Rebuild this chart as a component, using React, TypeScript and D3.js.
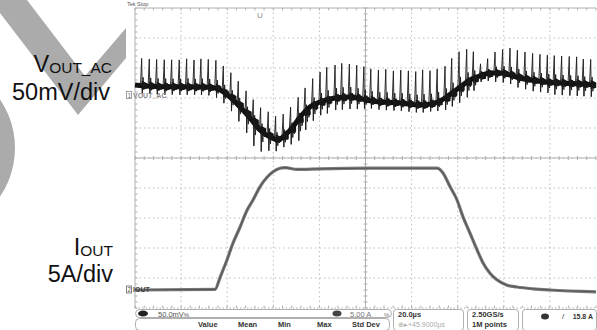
import React from 'react';
import * as d3 from 'd3';

const W = 597, H = 330;
const X0 = 135, X1 = 596, Y0 = 8, Y1 = 308;

// Time axis: 20 µs/div, 10 divisions
const TIME_DIVS = [0, 20, 40, 60, 80, 100, 120, 140, 160, 180, 200];

// VOUT_AC envelope (µs, mV), 50 mV/div
const ENV_T = [0, 10.8, 28.2, 34.7, 41.2, 45.6, 49.9, 54.2, 58.6, 62.0, 65.1, 68.5, 71.6, 75.9, 80.3, 86.8, 93.3, 100.2, 106.3, 115.0, 123.6, 130.2, 134.5, 137.5, 141.0, 145.3, 149.7, 154.0, 158.4, 162.7, 167.0, 171.4, 177.9, 184.4, 193.1, 200];
const ENV_MV = [16.7, 13.8, 13.3, 11.7, -3.3, -20, -38.3, -58.3, -70, -75, -66.7, -53.3, -36.7, -20, -11.7, -5, -3.3, -8.3, -11.7, -13.3, -16.7, -13.3, -5, 3.3, 13.3, 25, 31.7, 36.7, 36.7, 33.3, 28.3, 25, 21.7, 20, 18.3, 16.7];

// Switching spikes (µs) with their upward / downward excursion (mV)
const SPIKE_T = [2.9, 6.2, 9.4, 12.7, 15.9, 19.2, 22.4, 25.6, 28.6, 31.8, 35.1, 38.3, 41.6, 44.8, 48.2, 51.3, 54.5, 57.8, 61.0, 64.3, 67.5, 70.8, 73.8, 77.1, 80.3, 83.2, 86.8, 89.7, 93.0, 96.2, 99.3, 102.3, 105.6, 108.8, 112.1, 115.3, 118.6, 121.8, 124.8, 128.0, 131.1, 134.5, 137.4, 140.6, 143.9, 146.8, 149.9, 153.0, 156.2, 159.5, 162.7, 165.9, 169.2, 172.5, 175.7, 178.9, 181.9, 185.1, 188.4, 191.6, 194.5, 197.7];
const SPIKE_UP = [45, 45, 45, 45, 45, 45, 47, 45, 47, 47, 47, 45, 42, 40, 38, 37, 38, 40, 38, 37, 37, 37, 40, 45, 50, 55, 55, 57, 55, 55, 55, 53, 53, 55, 53, 55, 55, 55, 58, 55, 55, 53, 58, 60, 55, 45, 20, 25, 35, 40, 45, 45, 45, 45, 45, 45, 45, 45, 45, 45, 42, 42];
const SPIKE_DN = [13, 13, 13, 13, 13, 13, 13, 13, 13, 13, 15, 17, 22, 27, 32, 40, 35, 25, 20, 18, 25, 35, 30, 25, 22, 22, 20, 20, 20, 18, 15, 13, 13, 13, 13, 13, 13, 13, 13, 13, 15, 20, 22, 25, 25, 20, 10, 12, 15, 15, 15, 17, 17, 18, 18, 18, 20, 20, 20, 20, 20, 20];

// IOUT (µs, A), 5 A/div
const I_T = [0, 34.7, 37.0, 39.9, 42.5, 45.6, 48.6, 51.2, 54.2, 57.3, 59.9, 62.9, 65.1, 70.3, 80.3, 100.7, 131.0, 133.6, 136.7, 139.7, 142.3, 145.3, 148.4, 151.0, 154.0, 157.0, 161.4, 165.7, 172.7, 180.0, 200];
const I_A = [0, 0.1, 2.2, 5.0, 7.8, 10.5, 13.3, 15.0, 17.2, 18.8, 19.7, 20.3, 20.4, 20.1, 20.2, 20.3, 20.3, 19.5, 17.2, 15.0, 12.2, 9.5, 6.7, 4.5, 2.8, 1.7, 0.8, 0.5, 0.2, 0, -0.3];

const ROW2_LABELS = ['Value', 'Mean', 'Min', 'Max', 'Std Dev'];
const ROW2_X = [198, 238, 278, 317, 352];

const SANS = '"Liberation Sans", Arial, sans-serif';

export default function App() {
  const x = d3.scaleLinear().domain([0, 200]).range([X0, X1]);
  const yV = d3.scaleLinear().domain([0, 50]).range([95, 65]);
  const yI = d3.scaleLinear().domain([0, 5]).range([290, 260]);
  const envAt = d3.scaleLinear().domain(ENV_T).range(ENV_MV);
  const pxPerMv = yV(0) - yV(1);

  const envPath = d3.line<number>()
    .x((_, i) => x(ENV_T[i]))
    .y((d) => yV(d))
    .curve(d3.curveMonotoneX)(ENV_MV) || '';

  const iPath = d3.line<number>()
    .x((_, i) => x(I_T[i]))
    .y((d) => yI(d))
    .curve(d3.curveMonotoneX)(I_A) || '';

  const lineGen = d3.line<[number, number]>();

  const spikes = SPIKE_T.map((t, k) => {
    const sx = x(t);
    const base = yV(envAt(t));
    const up = SPIKE_UP[k] * pxPerMv;
    const dn = SPIKE_DN[k] * pxPerMv;
    const main: [number, number][] = [
      [sx - 1.2, base], [sx, base - up], [sx + 0.6, base + dn],
      [sx + 1.4, base - up * 0.3], [sx + 2.2, base + dn * 0.55],
      [sx + 3.0, base - up * 0.12], [sx + 3.8, base + dn * 0.3], [sx + 5, base],
    ];
    const wedge: [number, number][] = [
      [sx, base - 5], [sx + 5.5, base - 2], [sx + 5.5, base + 3], [sx, base + 4],
    ];
    return { main: lineGen(main) || '', wedge: lineGen(wedge) + 'Z', tail: lineGen([[sx + 0.6, base], [sx + 0.6, base + dn]]) || '' };
  });

  const gridXs = TIME_DIVS.map((t) => x(t));
  const gridYs = d3.range(11).map((j) => Y0 + j * 30);
  const xc = x(100), yc = Y0 + 150;
  const minorX = d3.range(0, 200.01, 4).map((t) => x(t));
  const minorY = d3.range(0, 51).map((j) => Y0 + j * 6);

  return (
    <svg width={W} height={H} style={{ position: 'absolute', left: 0, top: 0, background: '#fff' }}>
      <rect width={W} height={H} fill="#fff" />
      {/* watermark */}
      <polygon points="0,0 27,0 85,76 126,28 126,58 78,115 0,13" fill="#ababab" />
      <circle cx={-71} cy={148} r={86} fill="#ababab" />

      {/* channel labels */}
      <text x={112} y={72} textAnchor="end" fontFamily={SANS} fontSize={23.5} fill="#111">
        V<tspan fontSize={15.5} dy={1}>OUT_AC</tspan>
      </text>
      <text x={110} y={100} textAnchor="end" fontFamily={SANS} fontSize={23.5} fill="#111">50mV/div</text>
      <text x={113} y={255} textAnchor="end" fontFamily={SANS} fontSize={23.5} fill="#111">
        I<tspan fontSize={15.5} dy={1}>OUT</tspan>
      </text>
      <text x={113} y={282} textAnchor="end" fontFamily={SANS} fontSize={23.5} fill="#111">5A/div</text>

      {/* grid */}
      <g stroke="#bdbdbd" strokeWidth={1} strokeDasharray="1.5,3">
        {gridXs.slice(1, -1).map((gx, i) => (
          <line key={'v' + i} x1={gx} x2={gx} y1={Y0} y2={Y1} />
        ))}
        {gridYs.slice(1, -1).map((gy, i) => (
          <line key={'h' + i} x1={X0} x2={X1} y1={gy} y2={gy} />
        ))}
      </g>
      <g stroke="#b0b0b0" strokeWidth={1}>
        <line x1={X0} x2={X1} y1={yc} y2={yc} />
        <line x1={xc} x2={xc} y1={Y0} y2={Y1} />
        <line x1={X0} x2={X1} y1={Y0} y2={Y0} />
        <line x1={X0} x2={X0} y1={Y0} y2={Y1} />
        <line x1={X0} x2={X1} y1={Y1} y2={Y1} strokeDasharray="1.5,2" />
        {minorX.map((mx, i) => (
          <g key={'mx' + i}>
            <line x1={mx} x2={mx} y1={yc - 2} y2={yc + 2} />
            <line x1={mx} x2={mx} y1={Y0} y2={Y0 + 2.5} />
            <line x1={mx} x2={mx} y1={Y1 - 2.5} y2={Y1} />
          </g>
        ))}
        {minorY.map((my, i) => (
          <g key={'my' + i}>
            <line x1={xc - 2} x2={xc + 2} y1={my} y2={my} />
            <line x1={X0} x2={X0 + 2.5} y1={my} y2={my} />
          </g>
        ))}
      </g>

      {/* top indicators */}
      <text x={127} y={6} fontFamily={SANS} fontSize={5.5} fill="#555">Tek Stop</text>
      <text x={260} y={18} textAnchor="middle" fontFamily={SANS} fontSize={8} fill="#888">U</text>

      {/* IOUT trace */}
      <path d={iPath} fill="none" stroke="#7a7a7a" strokeWidth={3.2} />
      <path d={iPath} fill="none" stroke="#555" strokeWidth={1.1} />

      {/* VOUT trace */}
      {spikes.map((s, i) => (
        <path key={'t' + i} d={s.tail} stroke="#8a8a8a" strokeWidth={1} fill="none" />
      ))}
      <path d={envPath} fill="none" stroke="#111" strokeWidth={5} />
      {spikes.map((s, i) => (
        <g key={'s' + i}>
          <path d={s.wedge} fill="#111" />
          <path d={s.main} stroke="#1a1a1a" strokeWidth={0.9} fill="none" />
        </g>
      ))}

      {/* ground markers */}
      <rect x={126.5} y={91.5} width={5} height={7} fill="#fff" stroke="#888" strokeWidth={0.8} />
      <text x={127.5} y={97.5} fontFamily={SANS} fontSize={6.5} fill="#777">1</text>
      <text x={133} y={98} fontFamily={SANS} fontSize={7} fontWeight="bold" fill="#8a8a8a">VOUT_AC</text>
      <rect x={126.5} y={286} width={5} height={7} fill="#fff" stroke="#666" strokeWidth={0.8} />
      <text x={127.5} y={292} fontFamily={SANS} fontSize={6.5} fill="#555">2</text>
      <text x={133} y={292} fontFamily={SANS} fontSize={7} fontWeight="bold" fill="#444">IOUT</text>

      {/* bottom readout */}
      <g fill="none" stroke="#9a9a9a" strokeWidth={0.8}>
        <rect x={135.5} y={309.5} width={256} height={8} rx={4} />
        <rect x={135.5} y={318.5} width={254} height={12} rx={4} />
        <rect x={393.5} y={309.5} width={70} height={21} rx={3} />
        <rect x={467.5} y={309.5} width={51} height={21} rx={3} />
        <rect x={522.5} y={309.5} width={74} height={21} rx={3} />
      </g>
      <ellipse cx={143} cy={313.5} rx={5} ry={3} fill="#222" />
      <text x={158} y={316.5} fontFamily={SANS} fontSize={7.5} fill="#555">50.0mV<tspan fontSize={6}>%</tspan></text>
      <ellipse cx={337} cy={313.5} rx={4.5} ry={3} fill="#444" />
      <text x={350} y={316.5} fontFamily={SANS} fontSize={7.5} fill="#777">5.00 A</text>
      <text x={384} y={316.5} fontFamily={SANS} fontSize={6} fill="#777">%</text>
      {ROW2_LABELS.map((l, i) => (
        <text key={l} x={ROW2_X[i]} y={326.5} fontFamily={SANS} fontSize={7.5} fontWeight="bold" fill="#333">{l}</text>
      ))}
      <text x={398} y={316.5} fontFamily={SANS} fontSize={7.5} fontWeight="bold" fill="#333">20.0µs</text>
      <text x={398} y={327} fontFamily={SANS} fontSize={7} fill="#aaa">⊕▸+45.9000µs</text>
      <text x={472} y={316.5} fontFamily={SANS} fontSize={7.5} fontWeight="bold" fill="#333">2.50GS/s</text>
      <text x={472} y={327} fontFamily={SANS} fontSize={7.5} fontWeight="bold" fill="#333">1M points</text>
      <ellipse cx={545} cy={316.5} rx={4} ry={3} fill="#333" />
      <text x={562} y={319} fontFamily={SANS} fontSize={8} fill="#333">/</text>
      <text x={593} y={319} textAnchor="end" fontFamily={SANS} fontSize={7} fontWeight="bold" fill="#333">15.8 A</text>
    </svg>
  );
}
